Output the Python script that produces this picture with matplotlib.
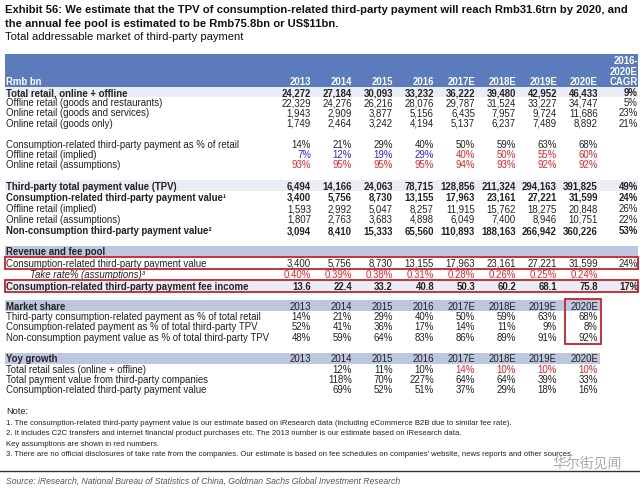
import matplotlib
matplotlib.use("Agg")
import matplotlib.pyplot as plt
from matplotlib.patches import Rectangle

plt.rcParams['font.family'] = ['Liberation Sans', 'DejaVu Sans']

years = ['2013', '2014', '2015', '2016', '2017E', '2018E', '2019E', '2020E']

total_retail = [24272, 27184, 30093, 33232, 36222, 39480, 42952, 46433]
offline_retail = [22329, 24276, 26216, 28076, 29787, 31524, 33227, 34747]
online_gs = [1943, 2909, 3877, 5156, 6435, 7957, 9724, 11686]
online_goods = [1749, 2464, 3242, 4194, 5137, 6237, 7489, 8892]
retail_cagr = [9, 5, 23, 21]

cons_pct_retail = [14, 21, 29, 40, 50, 59, 63, 68]
offline_pct = [7, 12, 19, 29, 40, 50, 55, 60]
online_pct = [93, 95, 95, 95, 94, 93, 92, 92]

tpv = [6494, 14166, 24063, 78715, 128856, 211324, 294163, 391825]
cons_tpv = [3400, 5756, 8730, 13155, 17963, 23161, 27221, 31599]
offline_tpv = [1593, 2992, 5047, 8257, 11915, 15762, 18275, 20848]
online_tpv = [1807, 2763, 3683, 4898, 6049, 7400, 8946, 10751]
noncons_tpv = [3094, 8410, 15333, 65560, 110893, 188163, 266942, 360226]
tpv_cagr = [49, 24, 26, 22, 53]

take_rate = [0.40, 0.39, 0.38, 0.31, 0.28, 0.26, 0.25, 0.24]
fee_income = [13.6, 22.4, 33.2, 40.8, 50.3, 60.2, 68.1, 75.8]
fee_cagr = [24, 17]

share_cons_retail = [14, 21, 29, 40, 50, 59, 63, 68]
share_cons_tpv = [52, 41, 36, 17, 14, 11, 9, 8]
share_noncons_tpv = [48, 59, 64, 83, 86, 89, 91, 92]

yoy_retail = [None, 12, 11, 10, 14, 10, 10, 10]
yoy_tpv = [None, 118, 70, 227, 64, 64, 39, 33]
yoy_cons = [None, 69, 52, 51, 37, 29, 18, 16]

notes = [
    "Note:",
    "1. The consumption-related third-party payment value is our estimate based on iResearch data (including eCommerce B2B due to similar fee rate).",
    "2. It includes C2C transfers and internet financial product purchases etc. The 2013 number is our estimate based on iResearch data.",
    "Key assumptions are shown in red numbers.",
    "3. There are no official disclosures of take rate from the companies. Our estimate is based on fee schedules on companies' website, news reports and other sources.",
]

HEAD = '#5b7bbd'
BAND = '#bcc6de'
LIGHT = '#eaedf5'
RED = '#e0242b'
BLUE = '#2a2ad0'
BOX = '#c8202a'
INK = '#222222'

col_x = [311, 352, 393, 434, 475, 516, 557, 598]
cagr_x = 638
fs = 6.9

fig = plt.figure(figsize=(6.4, 4.89), dpi=100)
ax = fig.add_axes([0, 0, 1, 1])
ax.set_xlim(0, 640)
ax.set_ylim(489, 0)
ax.axis('off')


def band(y0, y1, color, x1=638):
    ax.add_patch(Rectangle((5, y0), x1 - 5, y1 - y0, color=color, lw=0, zorder=0))


def row(y, label, vals, fmt, cagr=None, bold=False, colors=None, x0=6, italic=False):
    w = 'bold' if bold else 'normal'
    ax.text(x0, y, label, fontsize=fs, fontweight=w, va='center',
            style='italic' if italic else 'normal', color=INK)
    for i, v in enumerate(vals):
        if v is None:
            continue
        c = colors[i] if colors else INK
        ax.text(col_x[i], y, fmt(v), fontsize=fs, fontweight=w, ha='right', va='center', color=c)
    if cagr is not None:
        ax.text(cagr_x, y, f"{cagr}%", fontsize=fs, fontweight=w, ha='right', va='center', color=INK)


num = lambda v: f"{v:,}"
pct = lambda v: f"{v}%"

# title
ax.text(5, 10, "Exhibit 56: We estimate that the TPV of consumption-related third-party payment will reach Rmb31.6trn by 2020, and",
        fontsize=8.1, fontweight='bold', va='center', color='#111111')
ax.text(5, 24, "the annual fee pool is estimated to be Rmb75.8bn or US$11bn.",
        fontsize=8.1, fontweight='bold', va='center', color='#111111')
ax.text(5, 37.5, "Total addressable market of third-party payment", fontsize=8.1, va='center', color='#111111')

# header
band(55, 88, HEAD)
ax.text(6, 82, "Rmb bn", fontsize=fs, fontweight='bold', color='white', va='center')
for i, yr in enumerate(years):
    ax.text(col_x[i], 82, yr, fontsize=fs, fontweight='bold', color='white', ha='right', va='center')
for y, t in [(61, "2016-"), (72, "2020E"), (82, "CAGR")]:
    ax.text(cagr_x, y, t, fontsize=fs, fontweight='bold', color='white', ha='right', va='center')

# retail block
band(88, 98, LIGHT)
row(93, "Total retail, online + offline", total_retail, num, retail_cagr[0], bold=True)
row(103, "Offline retail (goods and restaurants)", offline_retail, num, retail_cagr[1])
row(113.5, "Online retail (goods and services)", online_gs, num, retail_cagr[2])
row(124, "Online retail (goods only)", online_goods, num, retail_cagr[3])

row(145, "Consumption-related third-party payment as % of retail", cons_pct_retail, pct)
row(155, "Offline retail (implied)", offline_pct, pct, colors=[BLUE] * 4 + [RED] * 4)
row(165, "Online retail (assumptions)", online_pct, pct, colors=[RED] * 8)

# TPV block
band(181, 192, LIGHT)
row(186.5, "Third-party total payment value (TPV)", tpv, num, tpv_cagr[0], bold=True)
row(198, "Consumption-related third-party payment value\u00b9", cons_tpv, num, tpv_cagr[1], bold=True)
row(209, "Offline retail (implied)", offline_tpv, num, tpv_cagr[2])
row(220, "Online retail (assumptions)", online_tpv, num, tpv_cagr[3])
row(231, "Non-consumption third-party payment value\u00b2", noncons_tpv, num, tpv_cagr[4], bold=True)

# revenue and fee pool
band(247, 257, BAND)
ax.text(6, 252, "Revenue and fee pool", fontsize=fs, fontweight='bold', va='center', color=INK)
row(264, "Consumption-related third-party payment value", cons_tpv, num, fee_cagr[0])
row(275, "Take rate% (assumptions)\u00b3", take_rate, lambda v: f"{v:.2f}%", colors=[RED] * 8, x0=30, italic=True)
band(281, 292, LIGHT)
row(286.5, "Consumption-related third-party payment fee income", fee_income, lambda v: f"{v:.1f}", fee_cagr[1], bold=True)
ax.add_patch(Rectangle((5, 258), 633, 12, fill=False, ec=BOX, lw=1.3, zorder=3))
ax.add_patch(Rectangle((5, 280.5), 633, 12, fill=False, ec=BOX, lw=1.3, zorder=3))

# market share
band(301, 312, BAND, x1=600)
ax.text(6, 306.5, "Market share", fontsize=fs, fontweight='bold', va='center', color=INK)
for i, yr in enumerate(years):
    ax.text(col_x[i], 306.5, yr, fontsize=fs, ha='right', va='center', color=INK)
row(317, "Third-party consumption-related payment as % of total retail", share_cons_retail, pct)
row(327.5, "Consumption-related payment as % of total third-party TPV", share_cons_tpv, pct)
row(338, "Non-consumption payment value as % of total third-party TPV", share_noncons_tpv, pct)
ax.add_patch(Rectangle((565, 300), 36, 45, fill=False, ec=BOX, lw=1.3, zorder=3))

# yoy growth
band(354, 365, BAND, x1=600)
ax.text(6, 359.5, "Yoy growth", fontsize=fs, fontweight='bold', va='center', color=INK)
for i, yr in enumerate(years):
    ax.text(col_x[i], 359.5, yr, fontsize=fs, ha='right', va='center', color=INK)
row(370, "Total retail sales (online + offline)", yoy_retail, pct, colors=[INK] * 4 + [RED] * 4)
row(380, "Total payment value from third-party companies", yoy_tpv, pct)
row(390, "Consumption-related third-party payment value", yoy_cons, pct)

# notes
for k, (y, t) in enumerate(zip([411, 423.5, 433.5, 444, 454], notes)):
    ax.text(6, y, t, fontsize=6.6 if k == 0 else 5.6, va='center', color=INK)
ax.plot([0, 640], [472, 472], color='#333333', lw=1.0)
ax.text(6, 481, "Source: iResearch, National Bureau of Statistics of China, Goldman Sachs Global Investment Research",
        fontsize=6.2, style='italic', va='center', color='#555555')

# watermark
ax.text(622, 463.5, "华尔街见闻", fontsize=10, family=['Noto Sans CJK SC', 'DejaVu Sans'],
        ha='right', va='center', color='#9a9a9a', alpha=0.85)

fig.savefig("out.png", dpi=100)
